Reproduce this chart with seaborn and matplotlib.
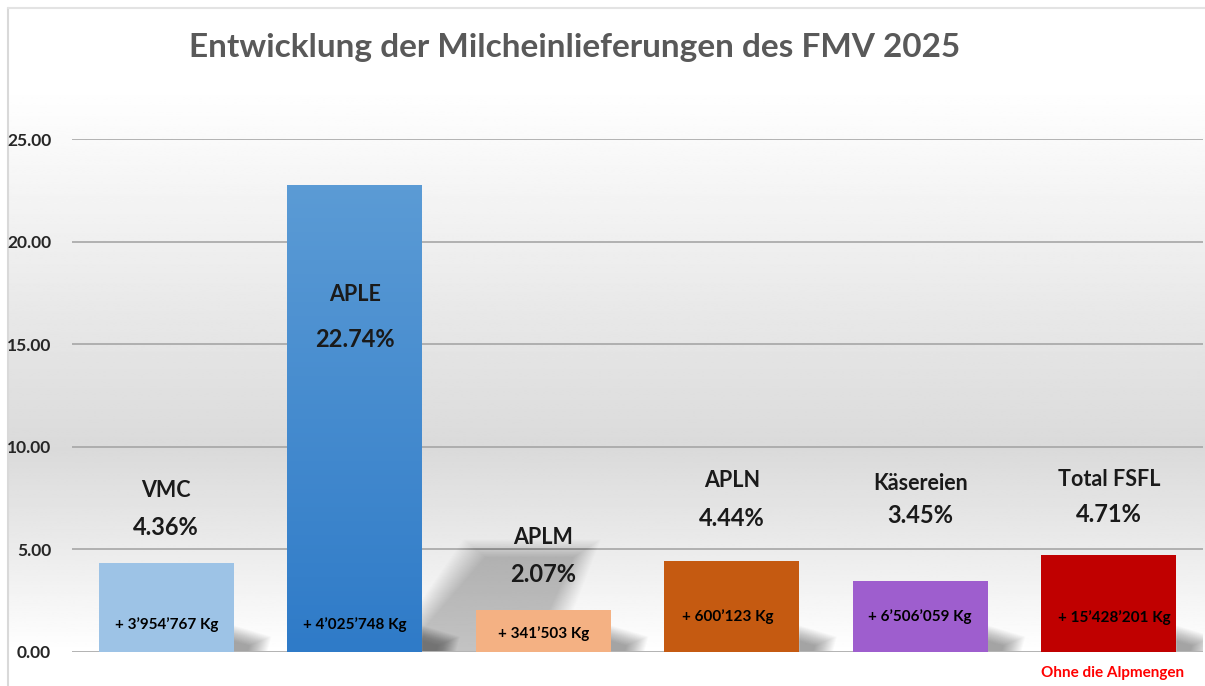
import numpy as np
import pandas as pd
import matplotlib
matplotlib.use('Agg')
import matplotlib.pyplot as plt
import seaborn as sns
from matplotlib.patches import Polygon
from matplotlib.ticker import FormatStrFormatter
from matplotlib.colors import LinearSegmentedColormap

# ========= Daten ==============
kategorien = ['VMC', 'APLE', 'APLM', 'APLN', 'Käsereien', 'Total FSFL']
prozent = [4.36, 22.74, 2.07, 4.44, 3.45, 4.71]
mengen = ['+ 3’954’767 Kg', '+ 4’025’748 Kg', '+ 341’503 Kg',
          '+ 600’123 Kg', '+ 6’506’059 Kg', '+ 15’428’201 Kg']
y_ticks = [0, 5, 10, 15, 20, 25]

# Farben und Lage der Beschriftungen (nur Layout)
farben = ['#9DC3E6', '#5B9BD5', '#F4B183', '#C55A11', '#9E5ECE', '#C00000']
name_y = [7.89, 17.40, 5.56, 8.38, 8.19, 8.43]
pct_y = [6.09, 15.25, 3.80, 6.53, 6.63, 6.68]
kg_y = [1.35, 1.35, 0.92, 1.75, 1.75, 1.70]
kg_dx = [0, 0, 0, -0.02, 0, 0.03]

sns.set_style('white')
plt.rcParams['font.family'] = ['Lato', 'DejaVu Sans']

W, H = 1205, 686
fig = plt.figure(figsize=(W / 100, H / 100), dpi=100)

# ======== Hintergrund mit Verlauf ===============
bg = fig.add_axes([0, 0, 1, 1], zorder=0)
bg.set_xlim(0, W)
bg.set_ylim(H, 0)
bg.axis('off')
yy = np.linspace(85, 652, 300)
grau = np.interp(yy, [85, 150, 450, 560, 652], [1.0, 0.975, 0.855, 0.93, 1.0])
grad = np.repeat(grau[:, None], 2, axis=1)
bg.imshow(grad, cmap='gray', vmin=0, vmax=1, aspect='auto',
          extent=(8, W, 652, 85), interpolation='bilinear')
bg.plot([8, 8], [8, H], color='#d9d9d9', lw=1.5)
bg.plot([8, W], [8, 8], color='#e3e3e3', lw=1.5)

# ======== Balkendiagramm ===============
ax = fig.add_axes([72 / W, 34 / H, 1131 / W, 513 / H], zorder=1)
ax.patch.set_alpha(0)
df = pd.DataFrame({'kategorie': kategorien, 'prozent': prozent})
sns.barplot(data=df, x='kategorie', y='prozent', hue='kategorie',
            palette=farben, saturation=1, width=0.715, legend=False, ax=ax,
            edgecolor='none', zorder=3)

ax.set_ylim(0, 25)
ax.set_yticks(y_ticks)
ax.yaxis.set_major_formatter(FormatStrFormatter('%.2f'))
ax.set_xticks([])
ax.set_xlabel('')
ax.set_ylabel('')
ax.yaxis.grid(True, color='#a6a6a6', lw=1.2, zorder=0)
ax.set_axisbelow(True)
sns.despine(ax=ax, left=True, bottom=True)
ax.tick_params(axis='y', length=0, pad=15, labelsize=12.5, labelcolor='#262626')
for t in ax.get_yticklabels():
    t.set_fontweight('bold')

bars = ax.patches

# Verlauf im APLE-Balken
b = bars[1]
x0, w, h = b.get_x(), b.get_width(), b.get_height()
verlauf = np.linspace(0, 1, 100)[:, None]
cm_blau = LinearSegmentedColormap.from_list('blau', ['#2F7BC8', '#5B9BD5'])
img = ax.imshow(verlauf, cmap=cm_blau, aspect='auto', origin='lower',
                extent=(x0, x0 + w, 0, h), zorder=3.5)
img.set_clip_path(b)
ax.set_xlim(-0.5, len(kategorien) - 0.5)
ax.set_ylim(0, 25)

# Schatten (weich, aus vielen Schichten)
n = 20
for p in bars:
    xr = p.get_x() + p.get_width()
    for k in range(n):
        f = k / n
        dx = 0.2 - f * 0.12
        poly = Polygon([(xr, 0.05), (xr, 1.3 - f * 0.8), (xr + dx, 0.75 - f * 0.45),
                        (xr + dx * 0.9, 0.05)], closed=True,
                       facecolor='black', alpha=0.018, edgecolor='none', zorder=2)
        ax.add_patch(poly)

p = bars[1]
xr = p.get_x() + p.get_width()
n = 30
for k in range(n):
    f = k / n
    poly = Polygon([(xr, 0.05), (xr, 2.6 - f * 1.6), (xr + 0.22 + f * 0.12, 5.5 - f * 0.9),
                    (xr + 0.95 - f * 0.15, 5.5 - f * 0.9), (xr + 0.72 - f * 0.15, 0.05)],
                   closed=True, facecolor='black', alpha=0.009,
                   edgecolor='none', zorder=2)
    ax.add_patch(poly)

# Beschriftungen
for i, kat in enumerate(kategorien):
    xc = bars[i].get_x() + bars[i].get_width() / 2
    ax.text(xc, name_y[i], kat, ha='center', va='center', fontsize=15.5,
            fontweight='bold', color='#1a1a1a', zorder=5)
    ax.text(xc, pct_y[i], f'{prozent[i]:.2f}%', ha='center', va='center',
            fontsize=17, fontweight='bold', color='#1a1a1a', zorder=5)
    ax.text(xc + kg_dx[i], kg_y[i], mengen[i], ha='center', va='center',
            fontsize=11, fontweight='bold', color='black', zorder=5)

fig.text(575 / W, 1 - 47 / H, 'Entwicklung der Milcheinlieferungen des FMV 2025',
         ha='center', va='center', fontsize=24, fontweight='bold', color='#595959')
fig.text(1113 / W, 1 - 673 / H, 'Ohne die Alpmengen', ha='center', va='center',
         fontsize=11, fontweight='bold', color='#FF0000')

fig.savefig('out.png', dpi=100, facecolor='white')
